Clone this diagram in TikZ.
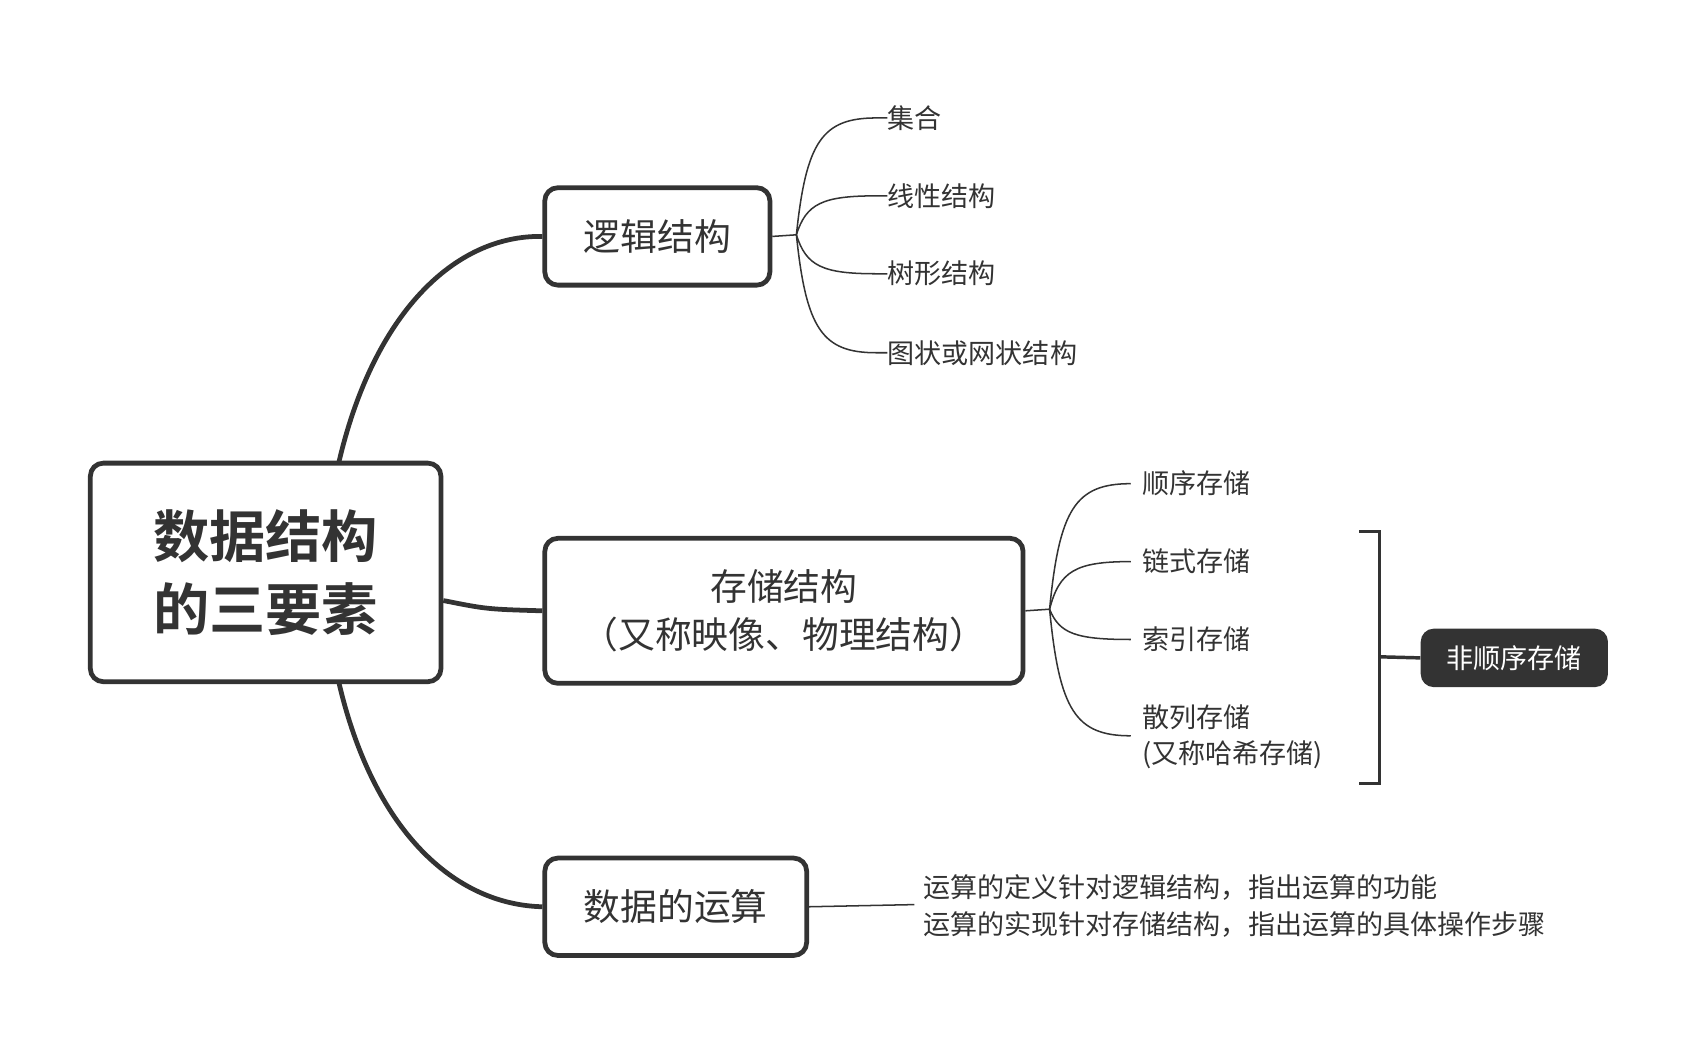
\documentclass[tikz,border=0pt]{standalone}
\usepackage{fontspec}
\setmainfont{Noto Sans CJK SC}
\newfontfamily\cjkb{Noto Sans CJK SC Bold}
\definecolor{ink}{HTML}{333333}
\begin{document}
\begin{tikzpicture}[x=0.5pt,y=-0.5pt,
 box/.style={draw=ink,line width=2.2pt,rounded corners=6pt,text=ink,align=center,inner sep=0pt},
 main/.style={draw=ink,line width=2.2pt},
 thin/.style={draw=ink,line width=0.7pt},
 leaf/.style={anchor=west,text=ink,font=\fontsize{12.5}{15}\selectfont,align=left,inner sep=0pt}]
\useasboundingbox (0,0) rectangle (1560,959);
\node[box,minimum width=162pt,minimum height=101pt,font=\cjkb\fontsize{26}{34}\selectfont] (root) at (245.5,529) {数据结构\\的三要素};
\node[box,minimum width=104pt,minimum height=45pt,font=\fontsize{17}{20}\selectfont] (lj) at (607.5,218.5) {逻辑结构};
\node[box,minimum width=221pt,minimum height=67pt,font=\fontsize{17}{22}\selectfont] (cc) at (724.5,564.5) {存储结构\\（又称映像、物理结构）};
\node[box,minimum width=121pt,minimum height=45pt,font=\fontsize{17}{20}\selectfont] (ys) at (624.5,838) {数据的运算};
\draw[main] (313,428) .. controls (345,290) and (420,217) .. (lj.west);
\draw[main] (root.east|-0,555) .. controls (450,563) .. (cc.west);
\draw[main] (313,630) .. controls (345,768) and (420,836) .. (ys.west);
% logic leaves
\coordinate (lh) at (736,217);
\draw[thin] (lj.east) -- (lh);
\foreach \n/\y/\t in {a/109/集合,b/181/线性结构,c/253/树形结构,d/326/图状或网状结构}{
 \node[leaf] (l\n) at (820,\y) {\t};
 \draw[thin] (lh) .. controls (745,\y+0.2*217-0.2*\y) and (760,\y) .. (810,\y) -- (l\n.west);
}
% storage leaves
\coordinate (sh) at (970,563);
\draw[thin] (cc.east) -- (sh);
\foreach \n/\y in {a/447,b/519,c/591,d/680}{
 \draw[thin] (sh) .. controls (979,\y+0.2*563-0.2*\y) and (994,\y) .. (1045,\y);
}
\node[leaf] (sa) at (1055,447) {顺序存储};
\node[leaf] (sb) at (1055,519) {链式存储};
\node[leaf] (sc) at (1055,591) {索引存储};
\node[leaf,font=\fontsize{12.5}{16.5}\selectfont] (sd) at (1055,681) {散列存储\\(又称哈希存储)};
% bracket
\draw[ink,line width=1.6pt] (1256,491) -- (1275,491) -- (1275,724) -- (1256,724);
\coordinate (bm) at (1275,607);
\node[fill=ink,rounded corners=6pt,text=white,minimum width=86.5pt,minimum height=27pt,inner sep=0pt,font=\fontsize{12.5}{15}\selectfont] (fs) at (1399.5,608) {非顺序存储};
\draw[ink,line width=1.6pt] (bm) -- (fs.west);
% operation
\node[leaf,font=\fontsize{12.5}{17}\selectfont] (op) at (853,837) {运算的定义针对逻辑结构，指出运算的功能\\运算的实现针对存储结构，指出运算的具体操作步骤};
\draw[thin] (ys.east) -- (845,836);
\end{tikzpicture}
\end{document}
